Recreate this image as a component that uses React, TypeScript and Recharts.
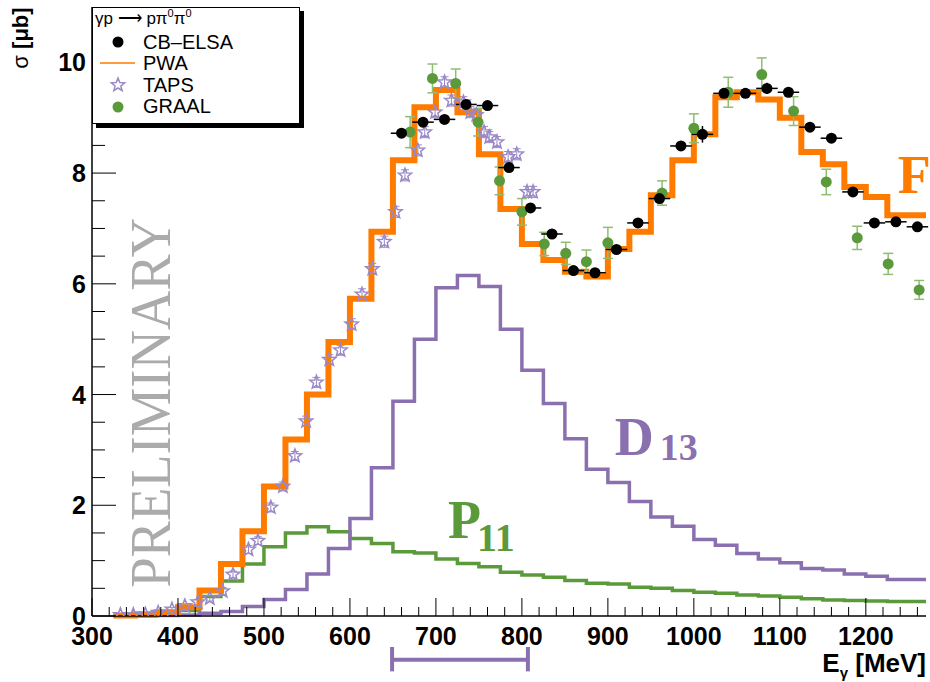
import React from 'react';
import {
  ComposedChart,
  Line,
  Scatter,
  XAxis,
  YAxis,
  ErrorBar,
  ReferenceDot,
  ReferenceLine,
  Legend,
} from 'recharts';

// ---------- DATA ----------
// histogram bin left edges (25 MeV bins); last bin ends at the frame edge
const binEdges = [
  325, 350, 375, 400, 425, 450, 475, 500, 525, 550, 575, 600, 625, 650, 675, 700, 725, 750, 775,
  800, 825, 850, 875, 900, 925, 950, 975, 1000, 1025, 1050, 1075, 1100, 1125, 1150, 1175, 1200,
  1225, 1250,
];
const histEnd = 1270;

const pwaValues = [
  0.01, 0.03, 0.07, 0.16, 0.46, 0.94, 1.53, 2.34, 3.19, 4.0, 4.95, 5.73, 6.94, 8.23, 9.19, 9.5,
  9.1, 8.34, 7.35, 6.72, 6.43, 6.22, 6.13, 6.63, 6.94, 7.6, 8.23, 8.7, 9.37, 9.46, 9.33, 9.0, 8.38,
  8.16, 7.75, 7.57, 7.24, 7.24,
];
const d13Values = [
  0.0, 0.0, 0.01, 0.02, 0.05, 0.08, 0.17, 0.3, 0.48, 0.76, 1.22, 1.76, 2.68, 3.88, 5.0, 5.93, 6.15,
  5.95, 5.18, 4.44, 3.84, 3.2, 2.65, 2.41, 2.07, 1.79, 1.62, 1.38, 1.28, 1.13, 1.03, 0.96, 0.86,
  0.83, 0.76, 0.72, 0.66, 0.66,
];
const p11Values = [
  0.01, 0.02, 0.04, 0.1, 0.35, 0.63, 0.94, 1.25, 1.5, 1.61, 1.52, 1.4, 1.31, 1.16, 1.14, 1.03, 0.95,
  0.89, 0.79, 0.74, 0.7, 0.64, 0.59, 0.58, 0.52, 0.5, 0.46, 0.43, 0.41, 0.38, 0.36, 0.34, 0.31,
  0.29, 0.28, 0.27, 0.26, 0.26,
];

// CB-ELSA data points
const cbElsaEnergy = [
  660, 685, 710, 735, 760, 785, 810, 835, 860, 885, 910, 935, 960, 985, 1010, 1035, 1060, 1085,
  1110, 1135, 1160, 1185, 1210, 1235, 1260,
];
const cbElsaSigma = [
  8.72, 8.92, 8.97, 9.24, 9.22, 8.1, 7.37, 6.9, 6.24, 6.2, 6.62, 7.1, 7.54, 8.49, 8.7, 9.44, 9.44,
  9.53, 9.46, 8.83, 8.63, 7.66, 7.1, 7.12, 7.03,
];
const cbElsaSigmaErr = [
  0.06, 0.06, 0.06, 0.06, 0.06, 0.06, 0.06, 0.06, 0.06, 0.06, 0.06, 0.06, 0.06, 0.06, 0.15, 0.06,
  0.06, 0.1, 0.06, 0.06, 0.06, 0.06, 0.06, 0.06, 0.06,
];
const cbElsaHalfBin = 12.5;

// GRAAL data points
const graalEnergy = [
  670, 696, 723, 749, 774, 800, 826, 851, 875, 900, 963, 1000, 1040, 1079, 1116, 1154, 1190, 1226,
  1262,
];
const graalSigma = [
  8.74, 9.71, 9.62, 8.92, 7.86, 7.3, 6.72, 6.55, 6.4, 6.74, 7.64, 8.81, 9.46, 9.78, 9.12, 7.84, 6.83,
  6.36, 5.89,
];
const graalErr = [
  0.28, 0.26, 0.26, 0.25, 0.25, 0.24, 0.21, 0.2, 0.21, 0.28, 0.22, 0.26, 0.27, 0.3, 0.26, 0.23, 0.21,
  0.19, 0.17,
];

// TAPS data points
const tapsEnergy = [
  333, 348, 362, 377, 393, 408, 423, 437, 452, 464, 482, 493, 508, 522, 536, 549, 561, 576, 589, 602,
  614, 626, 640, 653, 664, 679, 687, 699, 710, 718, 732, 740, 747, 756, 762, 771, 784, 794, 806, 813,
];
const tapsSigma = [
  0.02, 0.02, 0.03, 0.06, 0.12, 0.18, 0.25, 0.32, 0.45, 0.75, 1.2, 1.36, 1.96, 2.34, 2.89, 3.52,
  4.22, 4.63, 4.8, 5.27, 5.81, 6.27, 6.76, 7.3, 7.96, 8.41, 8.74, 9.1, 9.64, 9.31, 9.28, 9.1, 9.05,
  8.74, 8.65, 8.56, 8.29, 8.34, 7.66, 7.66,
];
const tapsErr = [
  0.01, 0.01, 0.01, 0.02, 0.03, 0.04, 0.05, 0.05, 0.06, 0.06, 0.07, 0.07, 0.08, 0.08, 0.08, 0.09,
  0.09, 0.09, 0.09, 0.1, 0.1, 0.1, 0.1, 0.1, 0.1, 0.1, 0.1, 0.1, 0.1, 0.1, 0.1, 0.1, 0.1, 0.1, 0.1,
  0.1, 0.1, 0.1, 0.1, 0.1,
];

// axis ticks / labels
const xMajorTicks = [300, 400, 500, 600, 700, 800, 900, 1000, 1100, 1200];
const xTicks = Array.from({ length: 49 }, (_, i) => 300 + 20 * i);
const yMajorTicks = [0, 2, 4, 6, 8, 10];
const yTicks = Array.from({ length: 22 }, (_, i) => i * 0.5);

// annotation: energy range marker below the axis
const rangeStart = 649;
const rangeEnd = 807;

// ---------- BUILT TABLES ----------
const histData = [
  ...binEdges.map((x, i) => ({ x, pwa: pwaValues[i], d13: d13Values[i], p11: p11Values[i] })),
  {
    x: histEnd,
    pwa: pwaValues[pwaValues.length - 1],
    d13: d13Values[d13Values.length - 1],
    p11: p11Values[p11Values.length - 1],
  },
];
const cbElsaData = cbElsaEnergy.map((x, i) => ({
  x,
  y: cbElsaSigma[i],
  ex: cbElsaHalfBin,
  ey: cbElsaSigmaErr[i],
}));
const graalData = graalEnergy.map((x, i) => ({ x, y: graalSigma[i], ey: graalErr[i] }));
const tapsData = tapsEnergy.map((x, i) => ({ x, y: tapsSigma[i], ey: tapsErr[i] }));

// ---------- STYLE ----------
const ORANGE = '#ff7b00';
const PURPLE = '#8a70ae';
const GREEN = '#5b9a3b';
const GREEN_LIGHT = '#8fbd72';
const STAR = '#9a89c6';
const SANS = '"Liberation Sans", Arial, Helvetica, sans-serif';
const SERIF = '"Liberation Serif", "Times New Roman", serif';

const starPoints = (cx: number, cy: number, ro: number, ri: number) => {
  const pts: string[] = [];
  for (let k = 0; k < 10; k++) {
    const r = k % 2 === 0 ? ro : ri;
    const a = -Math.PI / 2 + (k * Math.PI) / 5;
    pts.push(`${cx + r * Math.cos(a)},${cy + r * Math.sin(a)}`);
  }
  return pts.join(' ');
};

const XTick = (props: any) => {
  const { x, y, payload } = props;
  const v = payload.value;
  const major = xMajorTicks.includes(v);
  return (
    <g>
      <line x1={x} y1={y} x2={x} y2={y - (major ? 18 : 9)} stroke="#000" strokeWidth={1} />
      {major && (
        <text
          x={x}
          y={y + 29}
          textAnchor="middle"
          fontFamily={SANS}
          fontWeight="bold"
          fontSize={25}
          fill="#000"
        >
          {v}
        </text>
      )}
    </g>
  );
};

const YTick = (props: any) => {
  const { x, y, payload } = props;
  const v = payload.value;
  const major = yMajorTicks.includes(v);
  return (
    <g>
      <line x1={x} y1={y} x2={x + (major ? 24 : 13)} y2={y} stroke="#000" strokeWidth={1} />
      {major && (
        <text
          x={x - 6}
          y={y + 9}
          textAnchor="end"
          fontFamily={SANS}
          fontWeight="bold"
          fontSize={25}
          fill="#000"
        >
          {v}
        </text>
      )}
    </g>
  );
};

const LegendBox = () => (
  <div
    style={{
      width: 208,
      height: 117,
      border: '1px solid #000',
      boxShadow: '4px 4px 0 #000',
      background: '#fff',
      boxSizing: 'border-box',
    }}
  >
    <svg width={206} height={115} style={{ display: 'block' }}>
      <text x={2} y={16} fontFamily={SANS} fontSize={17} fill="#000">
        γp ⟶ pπ
        <tspan dy={-7} fontSize={11}>
          0
        </tspan>
        <tspan dy={7}>π</tspan>
        <tspan dy={-7} fontSize={11}>
          0
        </tspan>
      </text>
      <circle cx={25} cy={34} r={5.5} fill="#000" />
      <text x={50} y={41} fontFamily={SANS} fontSize={20} fill="#000">
        CB–ELSA
      </text>
      <line x1={7} y1={55} x2={42} y2={55} stroke={ORANGE} strokeWidth={1.5} />
      <text x={50} y={62} fontFamily={SANS} fontSize={20} fill="#000">
        PWA
      </text>
      <polygon points={starPoints(25, 77, 7, 3)} fill="none" stroke={STAR} strokeWidth={1.5} />
      <text x={50} y={84} fontFamily={SANS} fontSize={20} fill="#000">
        TAPS
      </text>
      <circle cx={25} cy={99} r={5.5} fill={GREEN} />
      <text x={50} y={105} fontFamily={SANS} fontSize={20} fill="#000">
        GRAAL
      </text>
    </svg>
  </div>
);

const renderYLabel = () => (
  <text
    transform="translate(28,38) rotate(-90)"
    textAnchor="middle"
    fontFamily={SANS}
    fontSize={22}
    fill="#000"
  >
    σ <tspan fontWeight="bold">[μb]</tspan>
  </text>
);

const renderXLabel = () => (
  <text x={926} y={672} textAnchor="end" fontFamily={SANS} fontWeight="bold" fontSize={26} fill="#000">
    E
    <tspan fontSize={15} dy={6}>
      γ
    </tspan>
    <tspan dy={-6}> [MeV]</tspan>
  </text>
);

export default function App() {
  return (
    <div style={{ position: 'absolute', left: 0, top: 0, width: 930, height: 682, background: '#fff' }}>
      <ComposedChart
        width={930}
        height={682}
        data={histData}
        margin={{ top: 7, right: 4, bottom: 0, left: 0 }}
      >
        <XAxis
          dataKey="x"
          type="number"
          domain={[300, 1270]}
          allowDataOverflow
          ticks={xTicks}
          interval={0}
          tickSize={0}
          tickMargin={0}
          tickLine={false}
          tick={<XTick />}
          height={66}
          axisLine={{ stroke: '#000', strokeWidth: 1.5 }}
          label={{ content: renderXLabel }}
        />
        {/* frame top; also the (unclipped) scale used by the histograms */}
        <XAxis
          xAxisId="top"
          dataKey="x"
          orientation="top"
          type="number"
          domain={[300, 1270]}
          tick={false}
          tickLine={false}
          height={0}
          axisLine={{ stroke: '#222', strokeWidth: 1 }}
        />
        <YAxis
          type="number"
          domain={[0, 11]}
          allowDataOverflow
          ticks={yTicks}
          interval={0}
          tickSize={0}
          tickMargin={0}
          tickLine={false}
          tick={<YTick />}
          width={92}
          axisLine={{ stroke: '#000', strokeWidth: 1.5 }}
          label={{ content: renderYLabel }}
        />
        {/* frame right; also the (unclipped) scale used by the histograms */}
        <YAxis
          yAxisId="right"
          orientation="right"
          type="number"
          domain={[0, 11]}
          tick={false}
          tickLine={false}
          width={0}
          axisLine={{ stroke: '#222', strokeWidth: 1 }}
        />

        <ReferenceDot
          x={390.7}
          y={3.85}
          r={0}
          ifOverflow="visible"
          shape={(p: any) => (
            <text
              x={p.cx}
              y={p.cy}
              transform={`rotate(-90 ${p.cx} ${p.cy})`}
              textAnchor="middle"
              fontFamily={SERIF}
              fontSize={58}
              fill="#ababab"
              textLength={370}
              lengthAdjust="spacingAndGlyphs"
            >
              PRELIMINARY
            </text>
          )}
        />

        <Line
          xAxisId="top"
          yAxisId="right"
          type="stepAfter"
          dataKey="p11"
          stroke={GREEN}
          strokeWidth={3.5}
          dot={false}
          isAnimationActive={false}
        />
        <Line
          xAxisId="top"
          yAxisId="right"
          type="stepAfter"
          dataKey="d13"
          stroke={PURPLE}
          strokeWidth={3.5}
          dot={false}
          isAnimationActive={false}
        />
        <Scatter
          data={tapsData}
          dataKey="y"
          isAnimationActive={false}
          shape={(p: any) => (
            <polygon points={starPoints(p.cx, p.cy, 7, 3)} fill="none" stroke={STAR} strokeWidth={1.5} />
          )}
        >
          <ErrorBar dataKey="ey" direction="y" width={4} stroke={STAR} strokeWidth={1} />
        </Scatter>
        <Line
          xAxisId="top"
          yAxisId="right"
          type="stepAfter"
          dataKey="pwa"
          stroke={ORANGE}
          strokeWidth={6}
          dot={false}
          isAnimationActive={false}
        />
        <Scatter
          data={graalData}
          dataKey="y"
          isAnimationActive={false}
          shape={(p: any) => <circle cx={p.cx} cy={p.cy} r={5.5} fill={GREEN} />}
        >
          <ErrorBar dataKey="ey" direction="y" width={5} stroke={GREEN_LIGHT} strokeWidth={1.5} />
        </Scatter>
        <Scatter
          data={cbElsaData}
          dataKey="y"
          isAnimationActive={false}
          shape={(p: any) => <circle cx={p.cx} cy={p.cy} r={5.5} fill="#000" />}
        >
          <ErrorBar dataKey="ex" direction="x" width={0} stroke="#000" strokeWidth={1.5} />
          <ErrorBar dataKey="ey" direction="y" width={0} stroke="#000" strokeWidth={1.5} />
        </Scatter>

        <ReferenceDot
          x={908}
          y={2.91}
          r={0}
          ifOverflow="visible"
          shape={(p: any) => (
            <text x={p.cx} y={p.cy} fill={PURPLE} fontFamily={SERIF} fontWeight="bold" fontSize={54}>
              D
              <tspan fontSize={38} dx={6} dy={5}>
                13
              </tspan>
            </text>
          )}
        />
        <ReferenceDot
          x={714}
          y={1.41}
          r={0}
          ifOverflow="visible"
          shape={(p: any) => (
            <text x={p.cx} y={p.cy} fill={GREEN} fontFamily={SERIF} fontWeight="bold" fontSize={54}>
              P
              <tspan fontSize={40} dx={-4} dy={13}>
                11
              </tspan>
            </text>
          )}
        />
        <ReferenceDot
          x={1237}
          y={7.64}
          r={0}
          ifOverflow="hidden"
          shape={(p: any) => (
            <text x={p.cx} y={p.cy} fill={ORANGE} fontFamily={SERIF} fontWeight="bold" fontSize={54}>
              F
              <tspan fontSize={38} dx={4} dy={8}>
                15
              </tspan>
            </text>
          )}
        />

        <ReferenceLine
          segment={[
            { x: rangeStart, y: -0.79 },
            { x: rangeEnd, y: -0.79 },
          ]}
          ifOverflow="visible"
          stroke={PURPLE}
          strokeWidth={4}
        />
        <ReferenceLine
          segment={[
            { x: rangeStart, y: -0.56 },
            { x: rangeStart, y: -1.0 },
          ]}
          ifOverflow="visible"
          stroke={PURPLE}
          strokeWidth={4}
        />
        <ReferenceLine
          segment={[
            { x: rangeEnd, y: -0.56 },
            { x: rangeEnd, y: -1.0 },
          ]}
          ifOverflow="visible"
          stroke={PURPLE}
          strokeWidth={4}
        />

        <Legend
          layout="horizontal"
          verticalAlign="middle"
          align="center"
          content={LegendBox}
          wrapperStyle={{ left: 92, top: 7, width: 208, height: 117 }}
        />
      </ComposedChart>
    </div>
  );
}
